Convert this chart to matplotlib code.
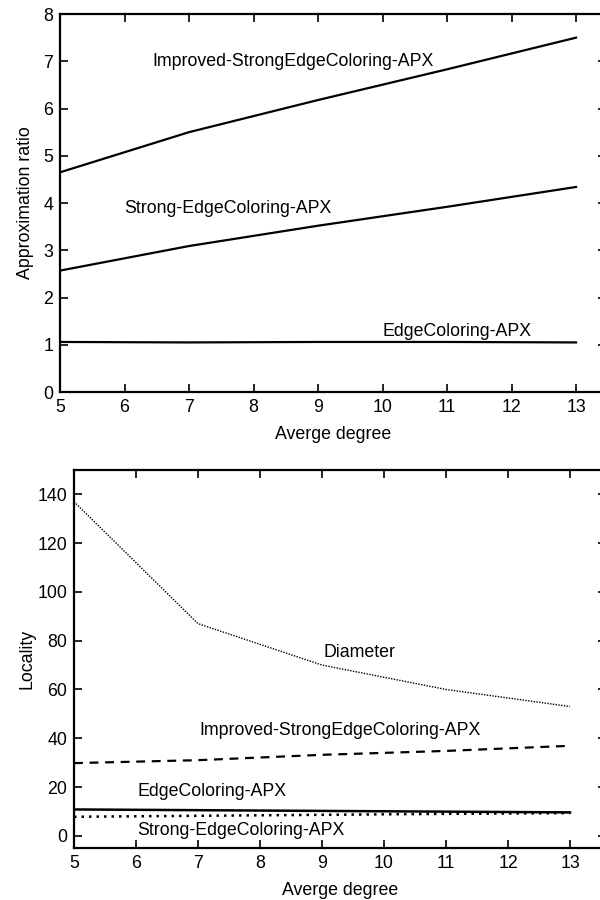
import matplotlib.pyplot as plt

plt.rcParams['font.family'] = ['Liberation Sans', 'DejaVu Sans']

degree = [5, 7, 9, 11, 13]

# approximation ratio (top panel)
ratio_improved = [4.65, 5.50, 6.18, 6.83, 7.50]
ratio_strong = [2.57, 3.09, 3.52, 3.92, 4.34]
ratio_edge = [1.06, 1.05, 1.06, 1.06, 1.05]

# locality (bottom panel)
loc_diameter = [137, 87, 70, 60, 53]
loc_improved = [29.8, 31.0, 33.2, 34.8, 36.9]
loc_edge = [10.8, 10.5, 10.2, 9.9, 9.6]
loc_strong = [7.8, 8.2, 8.6, 9.0, 9.3]

xticks = list(range(5, 14))
FS = 12.8


def style_axes(ax):
    for s in ax.spines.values():
        s.set_linewidth(1.6)
    ax.tick_params(direction='in', length=6, width=1.2, top=True, right=True,
                   labelsize=FS, pad=5)
    ax.set_xticks(xticks)
    ax.set_xlabel("Averge degree", fontsize=FS, labelpad=7)


fig = plt.figure(figsize=(6, 9), dpi=100)

# top panel (right spine sits just past the image edge, as in the original)
ax1 = fig.add_axes([0.1, 0.5644, 546 / 600, 0.42])
ax1.plot(degree, ratio_improved, color='black', lw=1.6)
ax1.plot(degree, ratio_strong, color='black', lw=1.6)
ax1.plot(degree, ratio_edge, color='black', lw=1.6)
ax1.set_xlim(5, 13.465)
ax1.set_ylim(0, 8)
ax1.set_ylabel("Approximation ratio", fontsize=FS)
ax1.yaxis.set_label_coords(-0.047, 0.5)
style_axes(ax1)
ax1.text(6.43, 7.0, "Improved-StrongEdgeColoring-APX", fontsize=FS, va='center')
ax1.text(6.0, 3.89, "Strong-EdgeColoring-APX", fontsize=FS, va='center')
ax1.text(10.0, 1.29, "EdgeColoring-APX", fontsize=FS, va='center')

# bottom panel
ax2 = fig.add_axes([74 / 600, 0.0578, 532 / 600, 0.42])
ax2.plot(degree, loc_diameter, color='black', lw=1.0, linestyle=(0, (1, 1)))
ax2.plot(degree, loc_improved, color='black', lw=1.6, linestyle=(0, (4, 3)))
ax2.plot(degree, loc_edge, color='black', lw=1.8)
ax2.plot(degree, loc_strong, color='black', lw=1.8, linestyle=(0, (1, 2)))
ax2.set_xlim(5, 13.58)
ax2.set_ylim(-5, 150)
ax2.set_yticks(range(0, 141, 20))
ax2.set_ylabel("Locality", fontsize=FS)
ax2.yaxis.set_label_coords(-0.073, 0.5)
style_axes(ax2)
ax2.text(9.02, 75.2, "Diameter", fontsize=FS, va='center')
ax2.text(7.02, 43, "Improved-StrongEdgeColoring-APX", fontsize=FS, va='center')
ax2.text(6.02, 18, "EdgeColoring-APX", fontsize=FS, va='center')
ax2.text(6.02, 2.0, "Strong-EdgeColoring-APX", fontsize=FS, va='center')

fig.savefig("out.png", dpi=100)
plt.close(fig)
